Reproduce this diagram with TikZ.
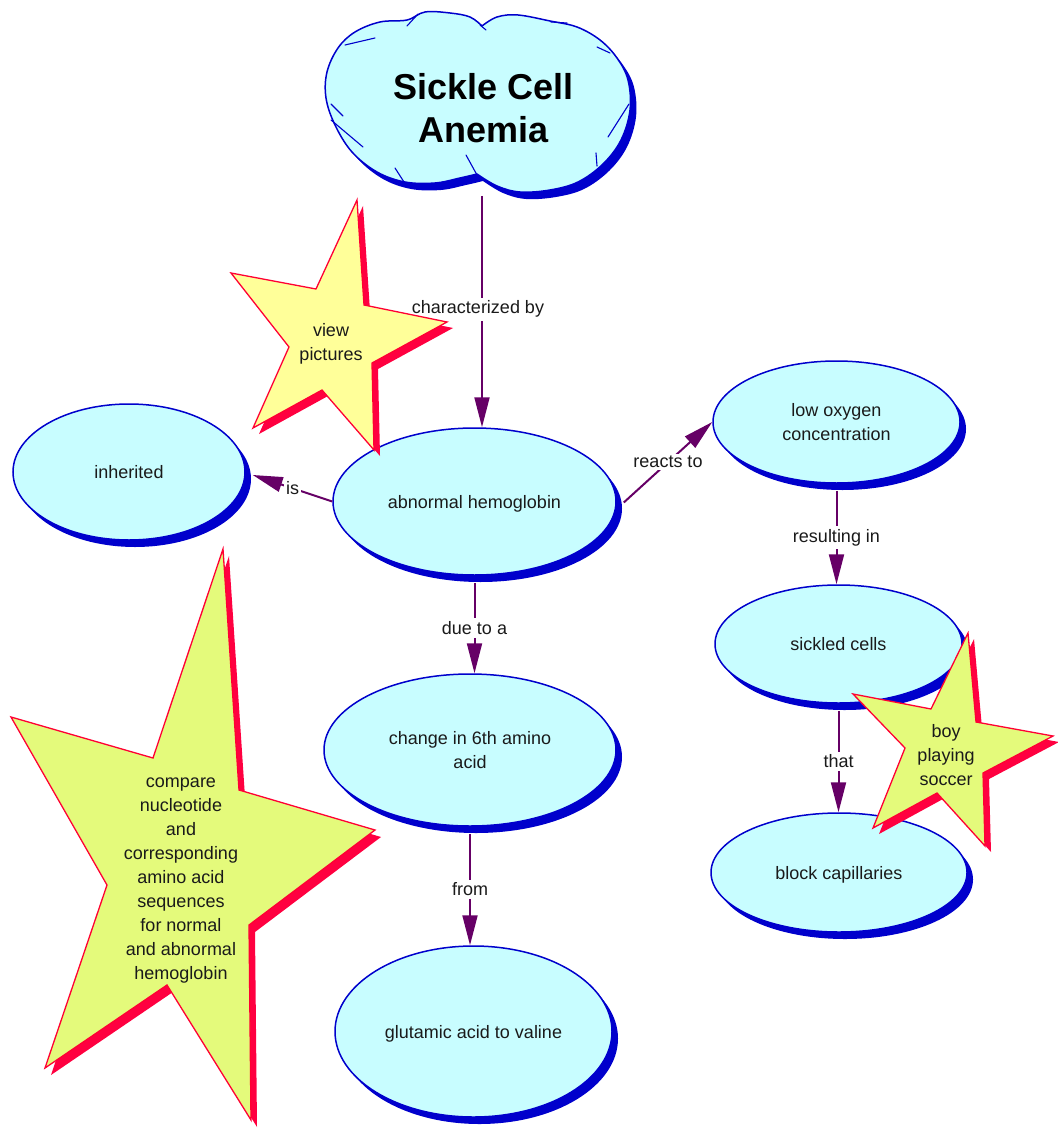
\documentclass[tikz,border=0pt]{standalone}
\usepackage{fontspec}
\setmainfont{Liberation Sans}
\usetikzlibrary{shapes.geometric,arrows.meta,shadows}
\definecolor{ovalblue}{HTML}{0000CC}
\definecolor{ovalfill}{HTML}{C8FDFF}
\definecolor{purp}{HTML}{660066}
\definecolor{starred}{HTML}{FF0033}
\definecolor{starshadow}{HTML}{FF0040}
\definecolor{staryellow}{HTML}{FFFF99}
\definecolor{stargreen}{HTML}{E4FA7B}
\definecolor{txt}{HTML}{1A1A1A}
\tikzset{
  concept/.style={ellipse, draw=ovalblue, line width=1.5pt, fill=ovalfill, inner sep=0pt,
    align=center, text=txt, font=\fontsize{18}{24}\selectfont, text depth=0pt,
    drop shadow={shadow xshift=6pt, shadow yshift=-7pt, fill=ovalblue, opacity=1}},
  conn/.style={draw=purp, line width=2pt, -{Triangle[length=30pt,width=15pt]}},
  lbl/.style={fill=white, inner sep=3pt, text=txt, font=\fontsize{18}{22}\selectfont},
  startext/.style={align=center, text=txt, font=\fontsize{18}{24}\selectfont, inner sep=0pt},
  starmain/.style={line width=1.3pt, draw=starred, line join=miter},
  cloudstroke/.style={draw=ovalblue, line width=1.1pt, line cap=round},
  starApath/.style={insert path={(357,200) -- (364,305) -- (447,322) -- (372,363) -- (374,450) -- (322,390) -- (253,428) -- (289,347) -- (231,273) -- (316,289) -- cycle}},
  starBpath/.style={insert path={(223,549) -- (239,790) -- (375,830) -- (249,925) -- (251,1120) -- (167,985) -- (45,1068) -- (107,885) -- (11,717) -- (153,758) -- cycle}},
  starCpath/.style={insert path={(968,633) -- (976,722) -- (1053,736) -- (983,773) -- (985,846) -- (937,793) -- (873,828) -- (905,748) -- (853,694) -- (931,709) -- cycle}},
  cloudpath/.style={insert path={plot[smooth,tension=0.6] coordinates {(482,26) (470,17) (450,13) (425,12) (407,20) (380,22) (355,32) (338,48) (327,72) (326,98) (335,125) (352,152) (377,172) (405,182) (435,183) (460,178) (477,174)} -- plot[smooth,tension=0.6] coordinates {(477,174) (497,186) (520,192) (550,190) (578,182) (603,164) (621,140) (630,110) (628,80) (617,58) (600,40) (577,27) (550,21) (518,15) (497,17) (482,26)} -- cycle}}
}
\begin{document}
\begin{tikzpicture}[x=1pt,y=-1pt]
\fill[white] (0,0) rectangle (1057,1131);
\useasboundingbox (0,0) rectangle (1057,1131);

% cloud
\begin{scope}[shift={(6,7)}]
  \fill[ovalblue, cloudpath];
\end{scope}
\path[fill=ovalfill, draw=ovalblue, line width=1.5pt, line join=round, cloudpath];
\draw[cloudstroke] (345,45) -- (375,38);
\draw[cloudstroke] (407,26) -- (418,14);
\draw[cloudstroke] (331,104) -- (343,116);
\draw[cloudstroke] (331,120) -- (363,147);
\draw[cloudstroke] (395,168) -- (404,182);
\draw[cloudstroke] (466,155) -- (477,175);
\draw[cloudstroke] (596,153) -- (597,166);
\draw[cloudstroke] (608,137) -- (629,104);
\draw[cloudstroke] (597,47) -- (610,53);
\draw[cloudstroke] (551,22) -- (567,23);
\draw[cloudstroke] (480,25) -- (486,30);
\node[align=center, text=black, font=\bfseries\fontsize{36}{43}\selectfont, inner sep=0pt] (title) at (483.5,108.5) {Sickle Cell\\Anemia};
\coordinate (cb) at (482,196);

% concepts
\node[concept, minimum width=232pt, minimum height=136pt] (inh) at (129,472) {inherited};
\node[concept, minimum width=283pt, minimum height=147pt] (abn) at (474.5,501.5) {abnormal hemoglobin};
\node[concept, minimum width=247pt, minimum height=122pt] (low) at (836.5,422) {low oxygen\\concentration};
\node[concept, minimum width=247pt, minimum height=118pt] (sick) at (838.5,644) {sickled cells};
\node[concept, minimum width=256pt, minimum height=119pt] (blk) at (839,872.5) {block capillaries};
\node[concept, minimum width=292pt, minimum height=152pt] (chg) at (470,750) {change in 6th amino\\acid};
\node[concept, minimum width=277pt, minimum height=171pt] (glu) at (473.5,1031.5) {glutamic acid to valine};

% connectors
\draw[conn] (cb) -- node[lbl, pos=0.49, xshift=-4pt] {characterized by} (cb |- abn.north);
\draw[conn] (abn.west) -- node[lbl, inner sep=2pt] {is} ([shift={(7,3)}]inh.east);
\draw[conn] ([shift={(7,1)}]abn.east) -- node[lbl, inner sep=2pt] {reacts to} (low.west);
\draw[conn] ([yshift=-7pt]abn.south) -- node[lbl] {due to a} (abn.south |- chg.north);
\draw[conn] ([yshift=-7pt]chg.south) -- node[lbl] {from} (chg.south |- glu.north);
\draw[conn] ([yshift=-7pt]low.south) -- node[lbl] {resulting in} (low.south |- sick.north);
\draw[conn] ([yshift=-7pt]sick.south) -- node[lbl] {that} (sick.south |- blk.north);

% stars
\begin{scope}[shift={(6,6)}]
  \fill[starshadow, starApath];
  \fill[starshadow, starCpath];
\end{scope}
\begin{scope}[shift={(6,7)}]
  \fill[starshadow, starBpath];
\end{scope}
\path[starmain, fill=staryellow, starApath];
\path[starmain, fill=stargreen, starBpath];
\path[starmain, fill=stargreen, starCpath];
\node[startext] (sa) at (331,344) {view\\pictures};
\node[startext] (sb) at (181,881) {compare\\nucleotide\\and\\corresponding\\amino acid\\sequences\\for normal\\and abnormal\\hemoglobin};
\node[startext] (sc) at (946,755) {boy\\playing\\soccer};
\end{tikzpicture}
\end{document}
